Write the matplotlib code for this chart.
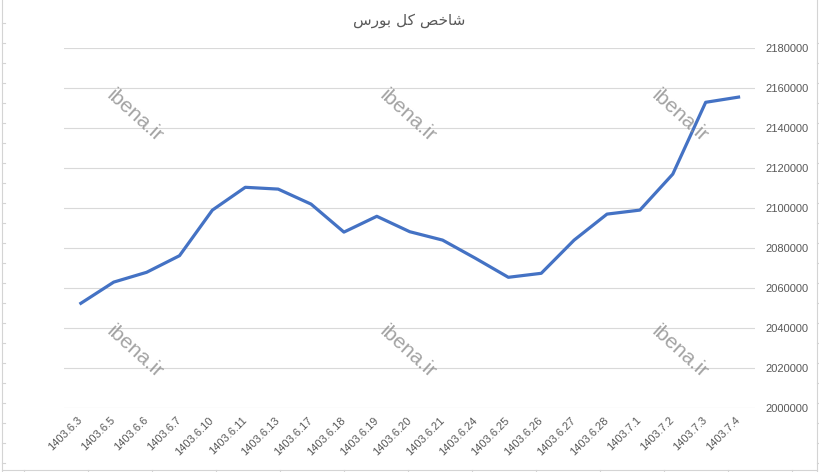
import matplotlib.pyplot as plt
from matplotlib.lines import Line2D
import numpy as np

# data
dates = ["1403.6.3", "1403.6.5", "1403.6.6", "1403.6.7", "1403.6.10",
         "1403.6.11", "1403.6.13", "1403.6.17", "1403.6.18", "1403.6.19",
         "1403.6.20", "1403.6.21", "1403.6.24", "1403.6.25", "1403.6.26",
         "1403.6.27", "1403.6.28", "1403.7.1", "1403.7.2", "1403.7.3",
         "1403.7.4"]
index_values = [2052500, 2063100, 2068000, 2076300, 2099100,
                2110500, 2109600, 2102100, 2088100, 2096000,
                2088300, 2084100, 2075000, 2065500, 2067500,
                2084100, 2097100, 2099100, 2117100, 2153000,
                2155600]
y_ticks = list(range(2000000, 2180001, 20000))

# title "شاخص کل بورس" pre-shaped (presentation forms), visual order
title = "\ufeb1\ufead\ufeee\ufe91 \ufede\ufb90 \ufeba\ufea7\ufe8e\ufeb7"
watermark = "ibena.ir"

# ---------------------------------------------
fig = plt.figure(figsize=(8.2, 4.72), dpi=100)
fig.patch.set_facecolor("white")

# spreadsheet cell borders around the chart
W, H = 820.0, 472.0
edge = "#d4d4d4"
fig.add_artist(Line2D([2 / W, 2 / W], [0, 1], color=edge, lw=0.8))
fig.add_artist(Line2D([817 / W, 817 / W], [0, 1], color=edge, lw=0.8))
fig.add_artist(Line2D([2 / W, 817 / W], [1 - 470 / H] * 2, color=edge, lw=0.8))
for yy in np.arange(23, 470, 20):
    fig.add_artist(Line2D([2 / W, 5 / W], [1 - yy / H] * 2, color=edge, lw=0.8))
for yy in np.arange(43, 470, 20):
    fig.add_artist(Line2D([817 / W, 1], [1 - yy / H] * 2, color=edge, lw=0.8))
for xx in np.arange(24, 817, 64):
    fig.add_artist(Line2D([xx / W] * 2, [0, 1 - 470 / H], color=edge, lw=0.8))

ax = fig.add_axes([64.4 / W, 1 - 408.3 / H, (755 - 64.4) / W, (408.3 - 48.3) / H])
x = np.arange(len(dates))
ax.plot(x, index_values, color="#4472C4", lw=2.3, solid_joinstyle="round",
        zorder=3)

ax.set_xlim(-0.5, len(dates) - 0.5)
ax.set_ylim(y_ticks[0], y_ticks[-1])
ax.set_yticks(y_ticks)
ax.set_yticklabels([str(v) for v in y_ticks])
ax.yaxis.tick_right()
ax.grid(axis="y", color="#d9d9d9", lw=0.8)
ax.set_axisbelow(True)
for s in ax.spines.values():
    s.set_visible(False)
ax.tick_params(axis="y", length=0, pad=7.5, labelsize=8, labelcolor="#595959")
ax.tick_params(axis="x", length=0, pad=7.5, labelsize=8, labelcolor="#595959")
ax.set_xticks(x)
ax.set_xticklabels(dates, rotation=45, ha="right", va="center",
                   rotation_mode="anchor")
for lab in ax.get_xticklabels() + ax.get_yticklabels():
    lab.set_family("Liberation Sans")

fig.text(409 / W, 1 - 21 / H, title, ha="center", va="center",
         fontsize=11, color="#595959", family="DejaVu Sans")

for cx in (135, 408, 680):
    for cy in (116, 352):
        fig.text(cx / W, 1 - cy / H, watermark, ha="center", va="center",
                 rotation=-42, fontsize=15, color="#8c8c8c", alpha=0.8,
                 family="Liberation Sans", zorder=5)

fig.savefig("out.png", dpi=100)
